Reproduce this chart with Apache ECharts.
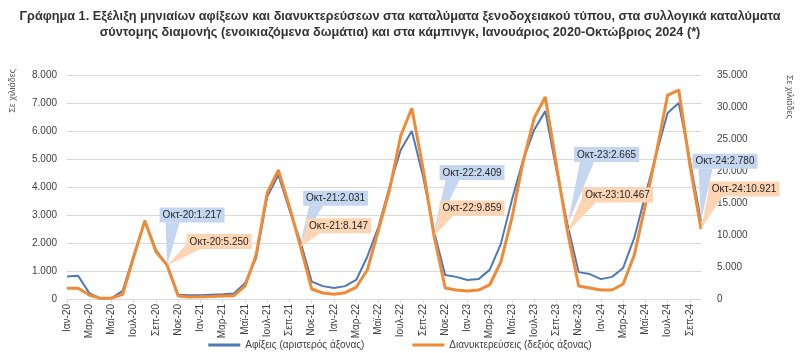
<!DOCTYPE html>
<html>
<head>
<meta charset="utf-8">
<script src="https://cdn.jsdelivr.net/npm/echarts@6/dist/echarts.min.js"></script>
<style>
html,body{margin:0;padding:0;background:#fff;}
#chart{width:800px;height:353px;}
</style>
</head>
<body>
<div id="chart"></div>
<script>
var categories = [
 'Ιαν-20','Φεβ-20','Μαρ-20','Απρ-20','Μαϊ-20','Ιουν-20','Ιουλ-20','Αυγ-20','Σεπ-20','Οκτ-20','Νοε-20','Δεκ-20',
 'Ιαν-21','Φεβ-21','Μαρ-21','Απρ-21','Μαϊ-21','Ιουν-21','Ιουλ-21','Αυγ-21','Σεπ-21','Οκτ-21','Νοε-21','Δεκ-21',
 'Ιαν-22','Φεβ-22','Μαρ-22','Απρ-22','Μαϊ-22','Ιουν-22','Ιουλ-22','Αυγ-22','Σεπ-22','Οκτ-22','Νοε-22','Δεκ-22',
 'Ιαν-23','Φεβ-23','Μαρ-23','Απρ-23','Μαϊ-23','Ιουν-23','Ιουλ-23','Αυγ-23','Σεπ-23','Οκτ-23','Νοε-23','Δεκ-23',
 'Ιαν-24','Φεβ-24','Μαρ-24','Απρ-24','Μαϊ-24','Ιουν-24','Ιουλ-24','Αυγ-24','Σεπ-24','Οκτ-24'
];
// Αφίξεις (χιλιάδες) - αριστερός άξονας
var arrivals = [
 800, 830, 210, 20, 30, 290, 1550, 2800, 1750, 1217, 150, 130,
 130, 150, 170, 200, 560, 1460, 3650, 4430, 3180, 2031, 620, 460,
 390, 460, 680, 1510, 2580, 4010, 5320, 6000, 4400, 2409, 860, 790,
 680, 710, 1040, 1960, 3540, 4960, 6040, 6710, 4610, 2665, 960, 890,
 710, 790, 1110, 2180, 3710, 5210, 6640, 7000, 4960, 2780
];
// Διανυκτερεύσεις (χιλιάδες) - δεξιός άξονας
var nights = [
 1670, 1670, 620, 100, 150, 730, 6600, 12200, 7400, 5250, 470, 330,
 350, 380, 450, 520, 2000, 6870, 16560, 20150, 14400, 8147, 1560, 940,
 730, 990, 1830, 4530, 10780, 17030, 25500, 29800, 20500, 9859, 1720, 1400,
 1250, 1400, 2190, 5780, 12660, 21400, 28280, 31560, 20940, 10467, 2030, 1720,
 1400, 1400, 2340, 6880, 14690, 22970, 31870, 32650, 20940, 10921
];
var leftTicks = {min: 0, max: 8000, interval: 1000};
var rightTicks = {min: 0, max: 35000, interval: 5000};

// Callouts (Οκτώβριος κάθε έτους)
var calloutCats = ['Οκτ-20','Οκτ-21','Οκτ-22','Οκτ-23','Οκτ-24'];
var arrivalCalloutText = ['Οκτ-20:1.217','Οκτ-21:2.031','Οκτ-22:2.409','Οκτ-23:2.665','Οκτ-24:2.780'];
var nightCalloutText = ['Οκτ-20:5.250','Οκτ-21:8.147','Οκτ-22:9.859','Οκτ-23:10.467','Οκτ-24:10.921'];

// layout of callout boxes (offsets of box centre from the point, px)
var arrivalOffsets = [[25,-50],[35,-44],[38,-59],[39,-70],[24,-60]];
var nightOffsets = [[52,-24],[38,-21],[38,-28],[50,-37],[43,-40]];

var FONT = '"Liberation Sans", Arial, sans-serif';
var fmt = function(v){ return String(v).replace(/\B(?=(\d{3})+(?!\d))/g, '.'); };

var measureCtx = document.createElement('canvas').getContext('2d');
measureCtx.font = '10px ' + FONT;

function calloutRenderer(offsets, texts, fillColor, isOrange) {
  return function(params, api) {
    var i = params.dataIndex;
    var pt = api.coord([api.value(0), api.value(1)]);
    var off = offsets[i];
    var txt = texts[i];
    var w = Math.ceil(measureCtx.measureText(txt).width) + 6;
    var h = 15;
    var cx = pt[0] + off[0], cy = pt[1] + off[1];
    var left = cx - w / 2, top = cy - h / 2, bottom = top + h;
    var wedge;
    if (isOrange) {
      wedge = [[pt[0], pt[1]], [left, bottom - 5], [left + 14, bottom]];
    } else {
      wedge = [[pt[0], pt[1]], [left + 6, bottom], [left + 20, bottom]];
    }
    return {
      type: 'group',
      children: [
        {type: 'polygon', shape: {points: wedge}, style: {fill: fillColor}},
        {type: 'rect', shape: {x: left, y: top, width: w, height: h}, style: {fill: fillColor}},
        {type: 'text', style: {text: txt, x: cx, y: cy + 0.5, align: 'center', verticalAlign: 'middle',
          fill: '#262626', font: '10px ' + FONT}}
      ]
    };
  };
}

var chart = echarts.init(document.getElementById('chart'), null, {renderer: 'canvas'});
var option = {
  backgroundColor: '#fff',
  animation: false,
  textStyle: {fontFamily: FONT},
  title: {
    text: 'Γράφημα 1. Εξέλιξη μηνιαίων αφίξεων και διανυκτερεύσεων στα καταλύματα ξενοδοχειακού τύπου, στα συλλογικά καταλύματα\nσύντομης διαμονής (ενοικιαζόμενα δωμάτια) και στα κάμπινγκ, Ιανουάριος 2020-Οκτώβριος 2024 (*)',
    left: 'center', top: 3,
    textStyle: {fontSize: 12.7, fontWeight: 'bold', color: '#333', lineHeight: 16, fontFamily: FONT, align: 'center'}
  },
  legend: {
    bottom: -2, left: 'center',
    itemWidth: 32, itemHeight: 3, itemGap: 48,
    icon: 'rect',
    textStyle: {fontSize: 10, color: '#404040', fontFamily: FONT},
    data: ['Αφίξεις (αριστερός άξονας)', 'Διανυκτερεύσεις (δεξιός άξονας)']
  },
  grid: {left: 67, right: 99, top: 75, bottom: 54},
  xAxis: {
    type: 'category', data: categories, boundaryGap: false,
    axisLine: {lineStyle: {color: '#d9d9d9'}},
    axisTick: {show: true, interval: 1, length: 4, lineStyle: {color: '#d9d9d9'}},
    axisLabel: {interval: 1, rotate: 90, fontSize: 10, color: '#404040', margin: 5, fontFamily: FONT},
    splitLine: {show: false}
  },
  yAxis: [
    {type: 'value', min: leftTicks.min, max: leftTicks.max, interval: leftTicks.interval,
     axisLine: {show: false}, axisTick: {show: false},
     axisLabel: {fontSize: 10, color: '#404040', margin: 10, formatter: fmt, fontFamily: FONT},
     splitLine: {lineStyle: {color: '#d9d9d9'}}},
    {type: 'value', min: rightTicks.min, max: rightTicks.max, interval: rightTicks.interval,
     axisLine: {show: false}, axisTick: {show: false},
     axisLabel: {fontSize: 10, color: '#404040', margin: 16, formatter: fmt, fontFamily: FONT},
     splitLine: {show: false}}
  ],
  graphic: [
    {type: 'text', left: 8, top: 69, rotation: Math.PI / 2,
     style: {text: 'Σε χιλιάδες', fill: '#595959', font: '9px ' + FONT}},
    {type: 'text', left: 785, top: 75, rotation: -Math.PI / 2,
     style: {text: 'Σε χιλιάδες', fill: '#595959', font: '9px ' + FONT}}
  ],
  series: [
    {name: 'Αφίξεις (αριστερός άξονας)', type: 'line', data: arrivals, yAxisIndex: 0,
     symbol: 'none', lineStyle: {color: '#4e79b8', width: 2}, itemStyle: {color: '#4e79b8'}, z: 2},
    {name: 'Διανυκτερεύσεις (δεξιός άξονας)', type: 'line', data: nights, yAxisIndex: 1,
     symbol: 'none', lineStyle: {color: '#f08a35', width: 3}, itemStyle: {color: '#f08a35'}, z: 3},
    {type: 'custom', yAxisIndex: 0, z: 5,
     renderItem: calloutRenderer(arrivalOffsets, arrivalCalloutText, '#c5d6f0', false),
     data: calloutCats.map(function(c){ var k = categories.indexOf(c); return [k, arrivals[k]]; })},
    {type: 'custom', yAxisIndex: 1, z: 6,
     renderItem: calloutRenderer(nightOffsets, nightCalloutText, '#fcd5b4', true),
     data: calloutCats.map(function(c){ var k = categories.indexOf(c); return [k, nights[k]]; })}
  ]
};
chart.setOption(option);
</script>
</body>
</html>
